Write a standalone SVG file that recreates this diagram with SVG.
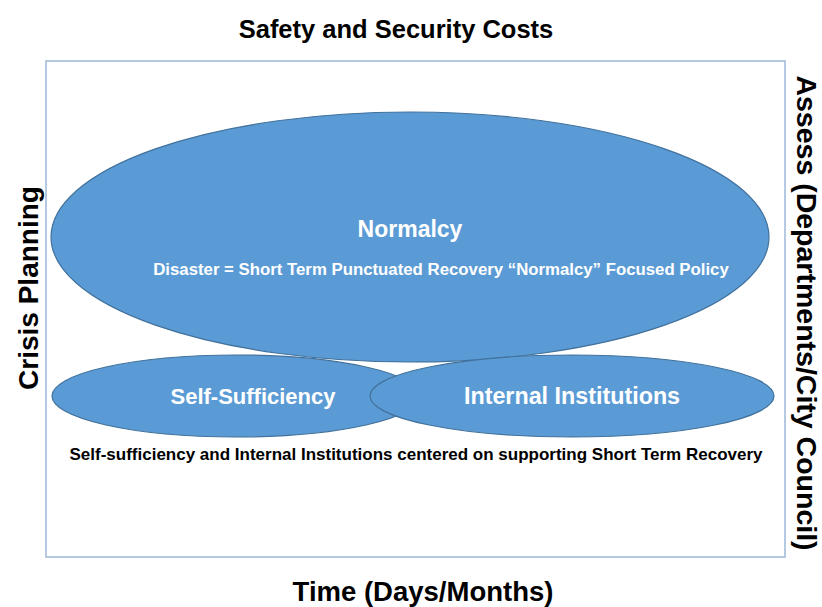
<svg xmlns="http://www.w3.org/2000/svg" width="822" height="607" viewBox="0 0 822 607">
<style>
.t{font-family:"Liberation Sans",Arial,sans-serif;font-weight:bold;text-anchor:middle;dominant-baseline:central}
.w{fill:#ffffff}
.k{fill:#000000}
.e{fill:#5B9BD5;stroke:#41719C;stroke-width:1.2}
</style>
<rect width="822" height="607" fill="#ffffff"/>
<g id="frame"><rect x="46" y="61" width="739" height="496" fill="none" stroke="#9DB8D9" stroke-width="1.5"/></g>
<text class="t k" x="396" y="29" font-size="25.5">Safety and Security Costs</text>
<text class="t k" x="423" y="591" font-size="27.5">Time (Days/Months)</text>
<text class="t k" font-size="28" transform="translate(28,288) rotate(-90)">Crisis Planning</text>
<text class="t k" font-size="28.5" transform="translate(807,313) rotate(90)">Assess (Departments/City Council)</text>
<g id="normalcy">
<ellipse class="e" cx="410" cy="237" rx="359" ry="125"/>
<text class="t w" x="410" y="229" font-size="23">Normalcy</text>
<text class="t w" x="441" y="269" font-size="16.8">Disaster = Short Term Punctuated Recovery “Normalcy” Focused Policy</text>
</g>
<g id="self-sufficiency">
<ellipse class="e" cx="236" cy="396" rx="184" ry="41"/>
<text class="t w" x="253" y="396" font-size="22">Self-Sufficiency</text>
</g>
<g id="internal-institutions">
<ellipse class="e" cx="572" cy="396" rx="202" ry="41"/>
<text class="t w" x="572" y="396" font-size="23.3">Internal Institutions</text>
</g>
<g id="connectors"></g>
<text class="t k" x="416" y="454" font-size="17">Self-sufficiency and Internal Institutions centered on supporting Short Term Recovery</text>
</svg>
